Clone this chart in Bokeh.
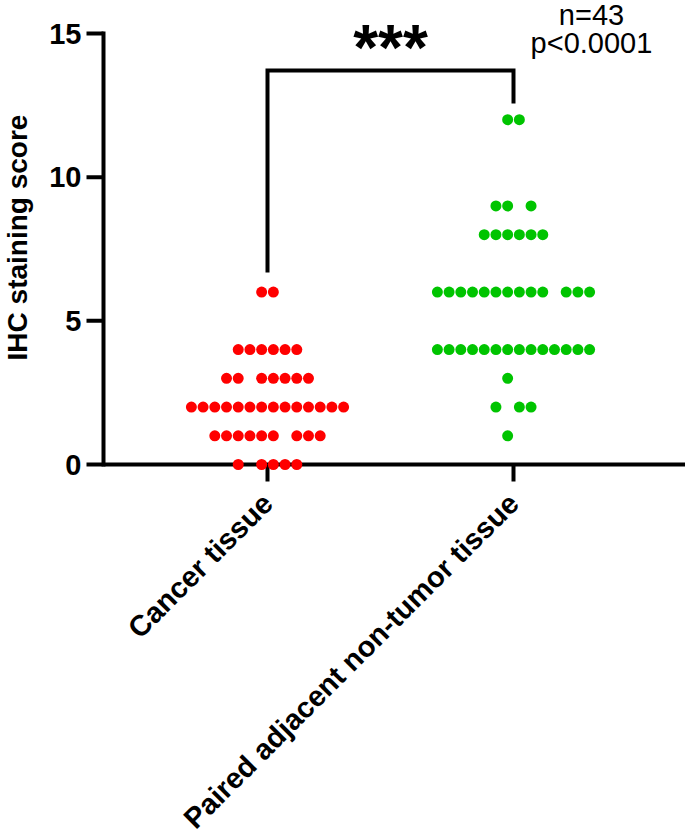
import math
from bokeh.plotting import figure
from bokeh.models import Span
from bokeh.core.properties import value
from bokeh.embed import file_html
from bokeh.resources import INLINE

# ---- data ----
groups = ["Cancer tissue", "Paired adjacent non-tumor tissue"]
group_pos = [1, 2]
group_colors = ["#ff0000", "#00c400"]

cancer_scores = [6, 4, 3, 2, 1, 0]
cancer_counts = [2, 6, 7, 14, 9, 5]
cancer_gaps = [[], [], [2], [], [6], [1]]      # empty slots within each row

normal_scores = [12, 9, 8, 6, 4, 3, 2, 1]
normal_counts = [2, 3, 6, 13, 14, 1, 3, 1]
normal_gaps = [[], [2], [], [10], [], [1], [1], [1]]

y_ticks = [0, 5, 10, 15]
y_tick_labels = ["0", "5", "10", "15"]
y_title = "IHC staining score"
sig_text = "***"
n_text = "n=43"
p_text = "p<0.0001"

FONT = "Liberation Sans"
SLOT = 0.0476   # horizontal spacing of dots in data units

W, H = 685, 840
AXIS_X = 103        # y-axis position in px
ZERO_Y = 464        # pixel row of y = 0
PPU_Y = 28.733      # pixels per score unit
PPU_X = 246.0       # pixels per group step
G1_X = 267          # pixel column of the first group


def layout(center, scores, counts, gaps):
    xs, ys = [], []
    for s, c, g in zip(scores, counts, gaps):
        nslots = c + len(g)
        for i in range(nslots):
            if i in g:
                continue
            xs.append(center + (i - (nslots - 1) / 2) * SLOT)
            ys.append(s)
    return xs, ys


x0 = group_pos[0] - G1_X / PPU_X
x1 = x0 + W / PPU_X
y1 = ZERO_Y / PPU_Y
y0 = -(H - ZERO_Y) / PPU_Y


def dx(px):
    return px / PPU_X


def dy(px):
    return px / PPU_Y


p = figure(width=W, height=H, x_range=(x0, x1), y_range=(y0, y1),
           output_backend="svg", toolbar_location=None,
           min_border_left=0, min_border_right=0, min_border_top=0,
           min_border_bottom=0)
p.outline_line_color = None
p.grid.visible = False
p.background_fill_color = "white"
p.xaxis.visible = False
p.yaxis.visible = False

xa = x0 + dx(AXIS_X)

# ---- x axis (at y = 0) ----
p.segment(x0=[xa], y0=[0], x1=[x1], y1=[0], line_color="black", line_width=4)
p.segment(x0=group_pos, y0=[0] * len(group_pos), x1=group_pos,
          y1=[-dy(17)] * len(group_pos), line_color="black", line_width=4)
p.text(x=group_pos, y=[-dy(34)] * len(group_pos), text=groups,
       angle=math.pi / 4, text_align="right", text_baseline="middle",
       text_font=value(FONT), text_font_size="29px", text_font_style="bold",
       text_color="black")

# ---- y axis ----
p.segment(x0=[xa], y0=[y_ticks[0]], x1=[xa], y1=[y_ticks[-1]],
          line_color="black", line_width=4, line_cap="square")
p.segment(x0=[xa] * len(y_ticks), y0=y_ticks, x1=[xa - dx(17)] * len(y_ticks),
          y1=y_ticks, line_color="black", line_width=4)
p.text(x=[xa - dx(22)] * len(y_ticks), y=y_ticks, text=y_tick_labels,
       text_align="right", text_baseline="middle",
       text_font=value(FONT), text_font_size="29px", text_font_style="bold",
       text_color="black")
p.text(x=[x0 + dx(17)], y=[(ZERO_Y - 237) / PPU_Y], text=[y_title],
       angle=math.pi / 2, text_align="center", text_baseline="middle",
       text_font=value(FONT), text_font_size="28px", text_font_style="bold",
       text_color="black")

# ---- dots ----
for center, sc, ct, gp, col in [
        (group_pos[0], cancer_scores, cancer_counts, cancer_gaps, group_colors[0]),
        (group_pos[1], normal_scores, normal_counts, normal_gaps, group_colors[1])]:
    xs, ys = layout(center, sc, ct, gp)
    r = p.scatter(xs, ys, size=11, fill_color=col, line_color=None)
    r.level = "overlay"

# ---- significance bracket ----
top = 13.71
p.line([group_pos[0], group_pos[0], group_pos[1], group_pos[1]],
       [max(cancer_scores) + 0.68, top, top, max(normal_scores) + 0.56],
       line_width=4, line_color="black", line_join="miter")

mid = (group_pos[0] + group_pos[1]) / 2
p.text(x=[mid], y=[14.48], text=[sig_text], text_align="center",
       text_baseline="alphabetic", text_font=value(FONT),
       text_font_size="64px", text_font_style="bold", text_color="black")
p.text(x=[2.317, 2.317], y=[15.66, 14.67], text=[n_text, p_text],
       text_align="center", text_baseline="alphabetic",
       text_font=value(FONT), text_font_size="29px", text_color="black")

open("out.html", "w").write(file_html(p, INLINE))
